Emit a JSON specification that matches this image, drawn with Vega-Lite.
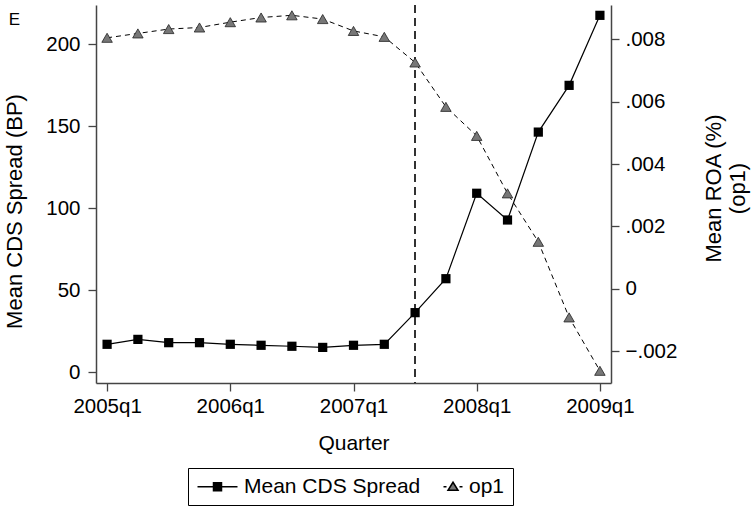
{
  "$schema": "https://vega.github.io/schema/vega-lite/v6.json",
  "width": 515,
  "height": 378,
  "autosize": {"type": "none"},
  "padding": {"left": 96, "top": 5, "right": 141, "bottom": 123},
  "background": "white",
  "title": {"text": "E", "anchor": "start", "frame": "bounds", "fontSize": 17, "fontWeight": "normal", "font": "Liberation Sans", "color": "black", "baseline": "top", "offset": 0, "dy": 25, "dx": 5},
  "config": {
    "view": {"stroke": null},
    "axis": {"labelFont": "Liberation Sans", "titleFont": "Liberation Sans", "labelFontSize": 20.5, "titleFontSize": 21, "titleFontWeight": "normal", "labelColor": "black", "titleColor": "black", "domainColor": "#444", "tickColor": "#444", "domainWidth": 1.5, "tickWidth": 1.3, "tickSize": 8, "grid": false},
    "legend": {"labelFont": "Liberation Sans", "labelFontSize": 21, "labelColor": "black", "labelLimit": 400}
  },
  "data": {"values": [
    {"q": 0, "cds": 16.9, "roa": 0.00804},
    {"q": 1, "cds": 19.9, "roa": 0.00818},
    {"q": 2, "cds": 17.9, "roa": 0.00832},
    {"q": 3, "cds": 17.9, "roa": 0.00837},
    {"q": 4, "cds": 16.9, "roa": 0.00854},
    {"q": 5, "cds": 16.3, "roa": 0.00869},
    {"q": 6, "cds": 15.7, "roa": 0.00876},
    {"q": 7, "cds": 15.0, "roa": 0.00864},
    {"q": 8, "cds": 16.3, "roa": 0.00826},
    {"q": 9, "cds": 16.9, "roa": 0.00807},
    {"q": 10, "cds": 36.2, "roa": 0.00725},
    {"q": 11, "cds": 56.9, "roa": 0.00583},
    {"q": 12, "cds": 109.0, "roa": 0.00490},
    {"q": 13, "cds": 92.7, "roa": 0.00306},
    {"q": 14, "cds": 146.3, "roa": 0.00151},
    {"q": 15, "cds": 174.8, "roa": -0.00091},
    {"q": 16, "cds": 217.5, "roa": -0.00262}
  ]},
  "encoding": {
    "x": {"field": "q", "type": "quantitative",
      "scale": {"domain": [-0.36, 16.36], "nice": false, "zero": false},
      "axis": {"values": [0, 4, 8, 12, 16], "labelExpr": "toString(2005 + datum.value / 4) + 'q1'", "title": "Quarter", "labelPadding": 5, "titlePadding": 16, "labelFlush": false}}
  },
  "layer": [
    {
      "mark": {"type": "rule", "stroke": "#333", "strokeWidth": 1.3, "strokeDash": [8, 5]},
      "encoding": {"x": {"datum": 10, "type": "quantitative"}}
    },
    {
      "encoding": {
        "y": {"field": "roa", "type": "quantitative",
          "scale": {"domain": [-0.00301, 0.00909], "nice": false, "zero": false},
          "axis": {"orient": "right", "values": [-0.002, 0, 0.002, 0.004, 0.006, 0.008], "labelExpr": "datum.value == 0 ? '0' : replace(format(datum.value, '.3f'), '0.', '.')", "title": ["Mean ROA (%)", "(op1)"], "titleFontSize": 22, "titleLineHeight": 24, "titleAngle": -90, "titleBaseline": "top", "titlePadding": 3, "labelPadding": 6, "titleY": 183}}
      },
      "layer": [
        {"mark": {"type": "line", "stroke": "black", "strokeWidth": 1, "strokeDash": [5, 4]}},
        {"mark": {"type": "point", "shape": "triangle-up", "filled": true, "fill": "#777", "stroke": "#222", "strokeWidth": 0.8, "size": 110, "opacity": 1}}
      ]
    },
    {
      "encoding": {
        "y": {"field": "cds", "type": "quantitative",
          "scale": {"domain": [-6.7, 223.8], "nice": false, "zero": false},
          "axis": {"orient": "left", "values": [0, 50, 100, 150, 200], "title": "Mean CDS Spread (BP)", "titleFontSize": 22, "titlePadding": 19, "labelPadding": 8, "titleY": 206}}
      },
      "layer": [
        {"mark": {"type": "line", "stroke": "black", "strokeWidth": 1.2}},
        {"mark": {"type": "point", "shape": "square", "filled": true, "fill": "black", "size": 85, "opacity": 1}}
      ]
    },
    {
      "transform": [{"filter": "datum.q < -1"}],
      "mark": {"type": "point", "filled": true, "stroke": "black", "strokeWidth": 1.2, "opacity": 1},
      "encoding": {
        "shape": {"field": "series", "type": "nominal",
          "scale": {"domain": ["Mean CDS Spread", "op1"], "range": ["M-4,0H4M-0.8,-0.8H0.8V0.8H-0.8Z", "M0.2,0H0.8M3.4,0H4M2.1,-0.9L3.1,0.7L1.1,0.7Z"]},
          "legend": {"title": null, "orient": "none", "legendX": 92, "legendY": 463, "direction": "horizontal", "strokeColor": "black", "padding": 8, "symbolSize": 100, "symbolOffset": 11, "labelOffset": 16, "columnPadding": -30}},
        "color": {"field": "series", "type": "nominal",
          "scale": {"domain": ["Mean CDS Spread", "op1"], "range": ["black", "#777"]},
          "legend": {"title": null, "orient": "none", "legendX": 92, "legendY": 463, "direction": "horizontal", "strokeColor": "black", "padding": 8, "symbolSize": 100, "symbolOffset": 11, "labelOffset": 16, "columnPadding": -30}}
      }
    }
  ],
  "resolve": {"scale": {"y": "independent"}}
}
